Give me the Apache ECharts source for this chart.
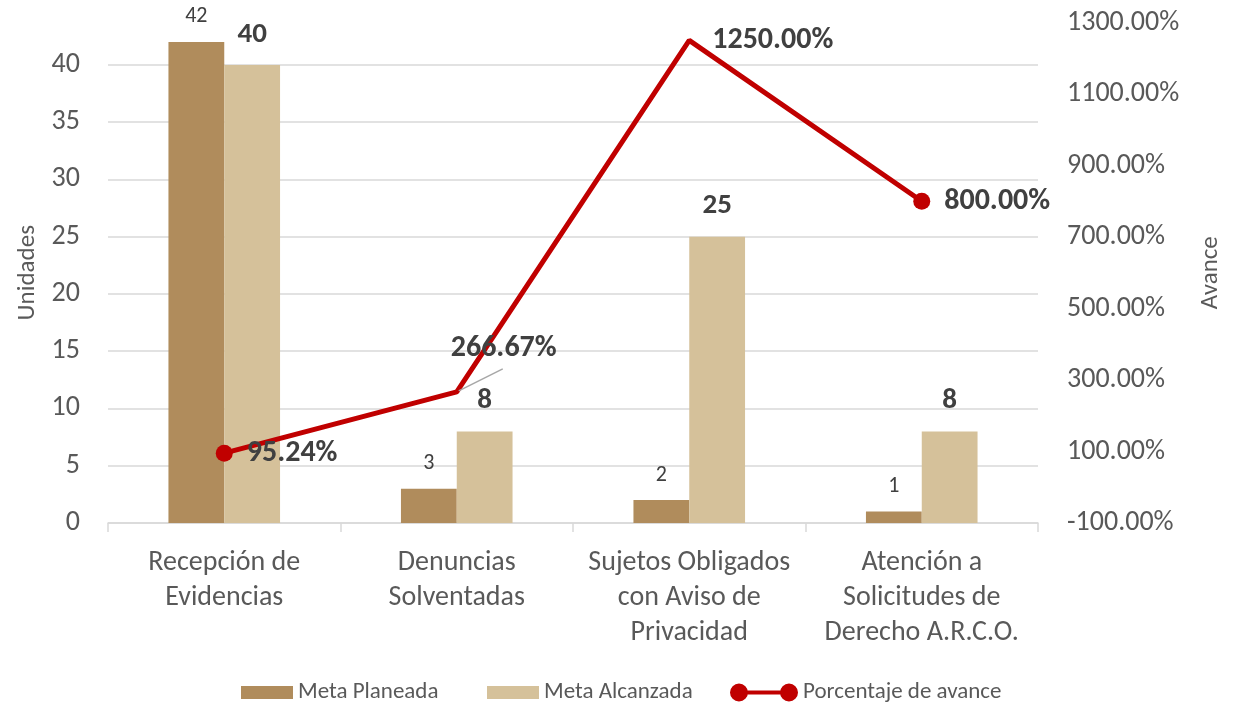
<!DOCTYPE html>
<html>
<head>
<meta charset="utf-8">
<script src="https://cdn.jsdelivr.net/npm/echarts@6/dist/echarts.min.js"></script>
<style>
  html, body { margin: 0; padding: 0; background: #fff; }
  #chart { width: 1240px; height: 703px; }
</style>
</head>
<body>
<div id="chart"></div>
<script>
// datos del gráfico
const categories = [
  'Recepción de\nEvidencias',
  'Denuncias\nSolventadas',
  'Sujetos Obligados\ncon Aviso de\nPrivacidad',
  'Atención a\nSolicitudes de\nDerecho A.R.C.O.'
];
const metaPlaneada = [42, 3, 2, 1];
const metaAlcanzada = [40, 8, 25, 8];
const porcentajeAvance = [95.24, 266.67, 1250, 800];

const FONT = 'Carlito, Calibri, Roboto, sans-serif';
const GRAY = '#595959';
const DARK = '#404040';
const RED = '#c00000';

// icono de leyenda: línea con círculos en los extremos
const lineIcon = 'path://M9,0A9,9 0 1,1 9,18A9,9 0 1,1 9,0Z M59,0A9,9 0 1,1 59,18A9,9 0 1,1 59,0Z M9,7L59,7L59,11L9,11Z';

const chart = echarts.init(document.getElementById('chart'), null, { renderer: 'canvas' });

// marcadores solo en el primer y último punto; etiquetas ajustadas a mano
const lineData = porcentajeAvance.map((v, i) => {
  const item = {
    value: v,
    symbolSize: (i === 0 || i === porcentajeAvance.length - 1) ? 17 : 0
  };
  if (i === 1) item.label = { offset: [-20, -43] };
  if (i === 2) item.label = { distance: 23 };
  return item;
});

const legendText = { color: GRAY, fontSize: 23, fontFamily: FONT };

const option = {
  backgroundColor: '#fff',
  textStyle: { fontFamily: FONT },
  grid: { left: 108, right: 202, top: 22.5, bottom: 180 },
  legend: [
    {
      left: 236, top: 676, itemWidth: 52, itemHeight: 13,
      textStyle: legendText,
      data: [{ name: 'Meta Planeada', icon: 'rect' }]
    },
    {
      left: 482, top: 676, itemWidth: 52, itemHeight: 13,
      textStyle: legendText,
      data: [{ name: 'Meta Alcanzada', icon: 'rect' }]
    },
    {
      left: 725, top: 676, itemWidth: 68, itemHeight: 18,
      textStyle: legendText,
      data: [{ name: 'Porcentaje de avance', icon: lineIcon }]
    }
  ],
  xAxis: {
    type: 'category',
    data: categories,
    axisLine: { lineStyle: { color: '#d9d9d9', width: 1.5 } },
    axisTick: { show: true, length: 9, lineStyle: { color: '#d9d9d9', width: 1.5 } },
    axisLabel: {
      color: GRAY, fontSize: 28, lineHeight: 35, margin: 22, interval: 0, fontFamily: FONT
    }
  },
  yAxis: [
    {
      type: 'value',
      min: 0,
      max: 43.7,
      interval: 5,
      name: 'Unidades',
      nameLocation: 'middle',
      nameGap: 68,
      nameRotate: 90,
      nameTextStyle: { color: GRAY, fontSize: 25, fontFamily: FONT },
      axisLine: { show: false },
      axisTick: { show: false },
      axisLabel: { color: GRAY, fontSize: 28, margin: 28, showMaxLabel: false, fontFamily: FONT },
      splitLine: { show: true, showMaxLine: false, lineStyle: { color: '#d9d9d9', width: 1.5 } }
    },
    {
      type: 'value',
      min: -100,
      max: 1300,
      interval: 200,
      name: 'Avance',
      nameLocation: 'middle',
      nameGap: 160,
      nameRotate: 90,
      nameTextStyle: { color: GRAY, fontSize: 25, fontFamily: FONT },
      axisLine: { show: false },
      axisTick: { show: false },
      splitLine: { show: false },
      axisLabel: {
        color: GRAY, fontSize: 28, margin: 29, fontFamily: FONT,
        formatter: v => v.toFixed(2) + '%'
      }
    }
  ],
  series: [
    {
      name: 'Meta Planeada',
      type: 'bar',
      data: metaPlaneada,
      barGap: '0%',
      barCategoryGap: '52%',
      itemStyle: { color: '#b08c5c' },
      label: {
        show: true, position: 'top', distance: 14,
        color: DARK, fontSize: 22, fontFamily: FONT
      }
    },
    {
      name: 'Meta Alcanzada',
      type: 'bar',
      data: metaAlcanzada,
      itemStyle: { color: '#d5c19a' },
      label: {
        show: true, position: 'top', distance: 16,
        color: DARK, fontSize: 29, fontWeight: 'bold', fontFamily: FONT
      }
    },
    {
      name: 'Porcentaje de avance',
      type: 'line',
      yAxisIndex: 1,
      data: lineData,
      symbol: 'circle',
      lineStyle: { color: RED, width: 5 },
      itemStyle: { color: RED },
      z: 5,
      label: {
        show: true, position: 'right', distance: 14,
        color: DARK, fontSize: 30, fontWeight: 'bold', fontFamily: FONT,
        formatter: p => p.value.toFixed(2) + '%'
      }
    }
  ]
};

chart.setOption(option);

// línea guía de la etiqueta desplazada (266.67%)
const p = chart.convertToPixel({ seriesIndex: 2 }, [1, porcentajeAvance[1]]);
chart.setOption({
  graphic: [{
    type: 'line',
    z: 10,
    shape: { x1: p[0] + 2, y1: p[1] - 1, x2: p[0] + 46, y2: p[1] - 23 },
    style: { stroke: '#a6a6a6', lineWidth: 1.5 }
  }]
});
</script>
</body>
</html>
